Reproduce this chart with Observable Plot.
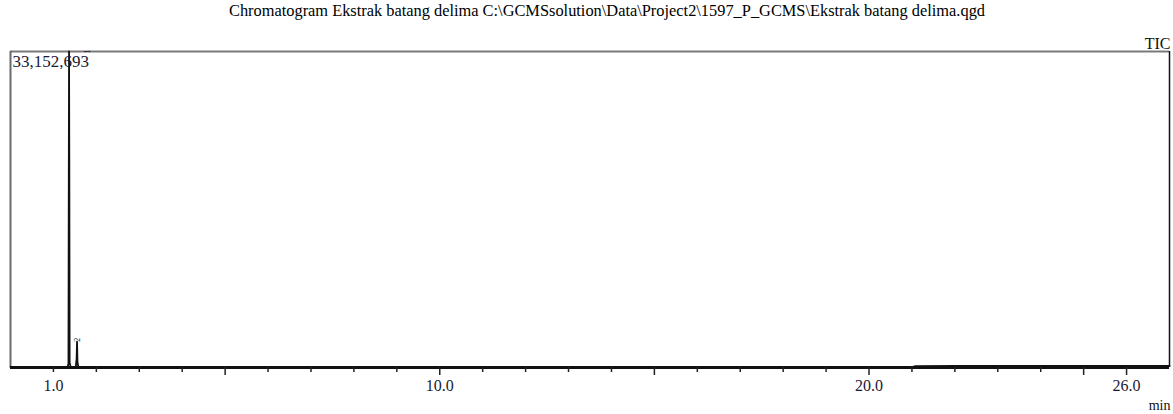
<!DOCTYPE html>
<html>
<head>
<meta charset="utf-8">
<script src="https://cdn.jsdelivr.net/npm/d3@7"></script>
<script src="https://cdn.jsdelivr.net/npm/@observablehq/plot@0.6"></script>
<style>
  html, body { margin: 0; padding: 0; background: #fff; }
  #wrap { position: relative; width: 1173px; height: 414px; overflow: hidden; }
  #title { position: absolute; top: 1px; left: 229px; font-family: "Liberation Serif", "Times New Roman", "DejaVu Serif", serif; font-size: 17px; line-height: 20px; color: #000; white-space: nowrap; transform-origin: 0 0; }
  #chart { position: absolute; top: 24px; left: 0; }
</style>
</head>
<body>
<div id="wrap">
  <div id="title">Chromatogram Ekstrak batang delima C:\GCMSsolution\Data\Project2\1597_P_GCMS\Ekstrak batang delima.qgd</div>
  <div id="chart"></div>
</div>
<script>
// Retention time (min) and TIC intensity samples
const times = [0.0, 1.0, 1.33, 1.350, 1.358, 1.364, 1.370, 1.378, 1.40, 1.52, 1.540, 1.550, 1.560, 1.58, 3.0, 6.0, 10.0, 15.0, 20.0, 21.0, 21.08, 22.0, 23.0, 24.0, 25.0, 26.0, 27.0];
const intensities = [50000, 60000, 80000, 400000, 20000000, 33152693, 22000000, 500000, 90000, 70000, 900000, 2700000, 600000, 70000, 50000, 40000, 40000, 40000, 40000, 40000, 150000, 160000, 170000, 165000, 170000, 175000, 180000];
const maxIntensity = 33152693;
const maxLabel = ["33,152,693"];
const peakNumbers = ["1", "2"];
const peakTimes = [1.364, 1.550];
const peakHeights = [33152693, 2700000];
const minorTicks = [1,2,3,4,6,7,8,9,11,12,13,14,16,17,18,19,21,22,23,24];
const majorTicks = [5,10,15,20,25,26];
const labelTicks = [1,10,20,26];

const data = times.map((t, i) => ({t, v: intensities[i]}));
const peaks = peakNumbers.map((n, i) => ({n, t: peakTimes[i], v: peakHeights[i]}));

const serif = "'Liberation Serif', 'Times New Roman', 'DejaVu Serif', serif";

const chart = Plot.plot({
  width: 1173,
  height: 390,
  marginTop: 27,
  marginBottom: 47,
  marginLeft: 10,
  marginRight: 4,
  style: {fontFamily: serif, background: "white", color: "#111"},
  x: {domain: [0, 27], axis: null, label: null},
  y: {domain: [0, maxIntensity], axis: null, label: null},
  marks: [
    Plot.ruleY([maxIntensity], {stroke: "#7a7a7a", strokeWidth: 2}),
    Plot.ruleX([0], {stroke: "#6a6a6a", strokeWidth: 2}),
    Plot.ruleX([27], {stroke: "#111", strokeWidth: 1.5}),
    Plot.line(data, {x: "t", y: "v", stroke: "#111", strokeWidth: 1.8}),
    Plot.ruleY([0], {stroke: "#111", strokeWidth: 3}),
    Plot.axisX(minorTicks, {label: null, tickSize: 5, tickFormat: () => "", stroke: "#222", strokeWidth: 1.5}),
    Plot.axisX(majorTicks, {label: null, tickSize: 8, tickFormat: () => "", stroke: "#222", strokeWidth: 1.5}),
    Plot.axisX(labelTicks, {label: null, tickSize: 0, tickPadding: 12, tickFormat: d => d.toFixed(1), fontSize: 16, fontFamily: serif, fill: "#1a1a33"}),
    Plot.text(maxLabel, {frameAnchor: "top-left", text: d => d, dx: 2, dy: 3, lineAnchor: "top", textAnchor: "start", fontSize: 17, fill: "#1a1a33"}),
    Plot.text(["TIC"], {frameAnchor: "top-right", text: d => d, dx: 1, dy: -3, lineAnchor: "bottom", textAnchor: "end", fontSize: 16, fill: "#111"}),
    Plot.text(["min"], {frameAnchor: "bottom-right", text: d => d, dx: 1, dy: 33, lineAnchor: "top", textAnchor: "end", fontSize: 14, fill: "#111"}),
    Plot.text(peaks.filter(d => d.n === "2"), {x: "t", y: "v", text: "n", rotate: -90, textAnchor: "start", fontSize: 8, fill: "#223"}),
    Plot.text(peaks.filter(d => d.n === "1"), {x: "t", y: "v", text: "n", dx: 18, rotate: -90, textAnchor: "middle", fontSize: 8, fill: "#223"})
  ]
});
document.getElementById("chart").appendChild(chart);

// fit the title to the width it spans in the reference
const title = document.getElementById("title");
const w = title.getBoundingClientRect().width;
title.style.transform = `scaleX(${756 / w})`;
</script>
</body>
</html>
